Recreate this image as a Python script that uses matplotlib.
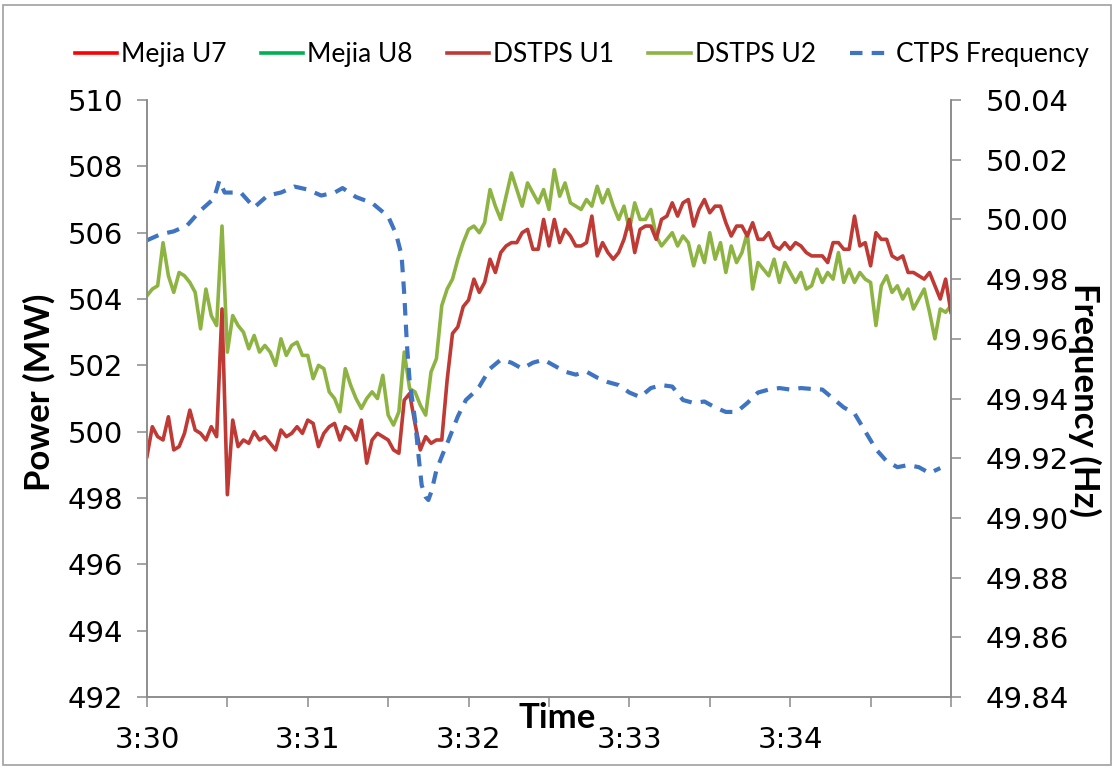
#!/usr/bin/env python3
import numpy as np
from matplotlib import pyplot as plt
from matplotlib.patches import Rectangle

# seconds after 3:30:00, one sample every 2 s
sec = np.arange(0, 301, 2)

dstps_u1 = [499.25, 500.15, 499.85, 499.75, 500.45, 499.45, 499.55, 499.95, 500.65, 500.05,
	499.95, 499.75, 500.15, 499.85, 503.7, 498.1, 500.35, 499.55, 499.75, 499.65,
	500.0, 499.75, 499.85, 499.65, 499.45, 500.05, 499.85, 499.95, 500.15, 499.95,
	500.35,
	500.25, 499.55, 499.95, 500.15, 500.25, 499.75, 500.15, 500.05, 499.75, 500.35,
	499.05, 499.75, 499.95, 499.85, 499.75, 499.45, 499.35, 500.95, 501.15, 500.25,
	499.45, 499.85, 499.65, 499.75, 499.75, 501.55, 502.96, 503.16, 503.77, 503.97,
	504.6, 504.2, 504.5, 505.2, 504.8, 505.4, 505.6, 505.7, 505.7, 506.0,
	506.1, 505.5, 505.5, 506.4, 505.6, 506.4, 505.7, 506.1, 505.9, 505.6,
	505.6, 505.7, 506.5, 505.3, 505.7, 505.4, 505.2, 505.4, 505.8, 506.4,
	505.4, 506.1, 506.2, 506.2, 505.8, 506.4, 506.5, 506.9, 506.5, 506.9,
	507.0, 506.2, 506.7, 507.0, 506.6, 506.8, 506.8, 506.3, 505.9, 506.2,
	506.2, 505.9, 506.3, 505.8, 505.8, 506.0, 505.6, 505.5, 505.7, 505.5,
	505.7, 505.6, 505.4, 505.3, 505.3, 505.3, 505.1, 505.7, 505.7, 505.5,
	505.5, 506.5, 505.6, 505.7, 505.0, 506.0, 505.8, 505.8, 505.3, 505.2,
	505.3, 504.8, 504.8, 504.7, 504.6, 504.8, 504.4, 504.0, 504.6, 503.6]

dstps_u2 = [504.1, 504.3, 504.4, 505.7, 504.7, 504.2, 504.8, 504.7, 504.5, 504.2,
	503.1, 504.3, 503.5, 503.2, 506.2, 502.4, 503.5, 503.2, 503.0, 502.5,
	502.9, 502.4, 502.6, 502.4, 502.0, 502.8, 502.3, 502.6, 502.7, 502.3,
	502.3,
	501.6, 502.0, 501.9, 501.2, 501.0, 500.6, 501.9, 501.4, 501.0, 500.7,
	501.0, 501.2, 501.0, 501.7, 500.5, 500.2, 500.6, 502.4, 501.3, 501.2,
	500.8, 500.5, 501.8, 502.2, 503.8, 504.3, 504.6, 505.2, 505.7, 506.1,
	506.2, 506.0, 506.3, 507.3, 506.8, 506.4, 507.1, 507.8, 507.3, 506.8,
	507.5, 507.2, 506.9, 507.3, 506.7, 507.9, 507.1, 507.5, 506.9, 506.8,
	506.7, 507.0, 506.8, 507.4, 506.9, 507.3, 506.8, 506.4, 506.8, 506.1,
	506.9, 506.4, 506.4, 506.7, 505.9, 505.6, 505.8, 506.0, 505.6, 505.9,
	505.7, 505.0, 505.6, 505.1, 506.0, 505.2, 505.7, 504.8, 505.6, 505.1,
	505.4, 506.0, 504.3, 505.1, 504.9, 504.7, 505.2, 504.5, 505.1, 504.8,
	504.5, 504.8, 504.3, 504.4, 504.9, 504.5, 504.8, 504.6, 505.4, 504.5,
	504.9, 504.5, 504.8, 504.6, 504.5, 503.2, 504.4, 504.7, 504.2, 504.4,
	504.0, 504.3, 503.7, 504.0, 504.3, 503.6, 502.8, 503.7, 503.6, 503.8]

# Mejia units are off the plotted range in the source, only in the legend
mejia_u7 = []
mejia_u8 = []

freq_sec = [0, 5, 10, 15, 20, 25, 27, 29, 35, 40, 45, 50, 55, 60, 65, 70, 73, 78, 84, 90,
	93, 95, 96, 97, 98, 100, 101.3, 102.5, 104, 105, 106.2, 108, 110.5, 112.5, 116, 119,
	122, 124, 128, 132, 136, 140, 144, 148, 152, 156, 160, 164, 168, 172, 176, 180,
	184, 188, 192, 196, 200, 204, 208, 212, 216, 220, 224, 228, 232, 236, 240, 244,
	248, 252, 256, 260, 264, 268, 272, 276, 280, 284, 288, 292, 296]
freq_hz = [49.993, 49.995, 49.996, 49.998, 50.003, 50.007, 50.013, 50.009, 50.009, 50.004,
	50.008, 50.009, 50.011, 50.010, 50.008, 50.009, 50.0105, 50.0075, 50.0055, 50.001,
	49.995, 49.988, 49.975, 49.958, 49.946, 49.933, 49.921, 49.911, 49.907, 49.906,
	49.909, 49.916, 49.9217, 49.926, 49.934, 49.9395, 49.942, 49.944, 49.950, 49.953,
	49.952, 49.950, 49.952, 49.953, 49.951, 49.949, 49.948, 49.949, 49.947, 49.9455,
	49.9445, 49.942, 49.9405, 49.9435, 49.9445, 49.944, 49.9395, 49.9385, 49.939, 49.937,
	49.9355, 49.9355, 49.9385, 49.942, 49.943, 49.9435, 49.943, 49.9435, 49.9432, 49.943,
	49.940, 49.937, 49.935, 49.929, 49.923, 49.919, 49.917, 49.9177, 49.917, 49.915,
	49.9167]

x_ticks = list(range(0, 301, 30))
x_labels = ['3:30', '', '3:31', '', '3:32', '', '3:33', '', '3:34', '', '']

GREY = '#8a8a8a'
TITLE_FONT = ['Lato', 'DejaVu Sans']


def main():
	fig = plt.figure(figsize=(11.15, 7.70), dpi=100)
	ax = fig.add_axes([0.1318, 0.0948, 0.7211, 0.7753])
	ax2 = ax.twinx()

	l7, = ax.plot(mejia_u7, mejia_u7, color='#ff0000', lw=2.6, label='Mejia U7')
	l8, = ax.plot(mejia_u8, mejia_u8, color='#00b050', lw=2.6, label='Mejia U8')
	l2, = ax.plot(sec, dstps_u2, color='#8db443', lw=2.6, label='DSTPS U2')
	l1, = ax.plot(sec, dstps_u1, color='#bf3a35', lw=2.6, label='DSTPS U1')
	lf, = ax2.plot(freq_sec, freq_hz, color='#3f74c2', lw=3.0, dashes=(3, 2.2),
		label='CTPS Frequency')

	ax.set_xlim(0, 300)
	ax.set_ylim(492, 510)
	ax.set_yticks(range(492, 511, 2))
	ax2.set_ylim(49.84, 50.04)
	ax2.set_yticks(np.linspace(49.84, 50.04, 11))
	ax2.set_yticklabels(['%.2f' % v for v in np.linspace(49.84, 50.04, 11)])
	ax.set_xticks(x_ticks)
	ax.set_xticklabels(x_labels)

	for a in (ax, ax2):
		a.spines['top'].set_visible(False)
		for s in ('left', 'right', 'bottom'):
			a.spines[s].set_color(GREY)
			a.spines[s].set_linewidth(1.1)
		a.tick_params(direction='out', length=7, width=1.1, color=GREY,
			labelsize=21, labelcolor='black')
	ax.tick_params(axis='y', pad=10)
	ax.tick_params(axis='x', pad=14)
	ax2.tick_params(axis='y', pad=18)

	fig.text(0.035, 0.49, 'Power (MW)', rotation=90, ha='center', va='center',
		fontsize=25, fontweight='bold', family=TITLE_FONT)
	fig.text(0.973, 0.48, 'Frequency (Hz)', rotation=-90, ha='center', va='center',
		fontsize=25, fontweight='bold', family=TITLE_FONT)
	fig.text(0.4996, 0.0675, 'Time', ha='center', va='center',
		fontsize=25, fontweight='bold', family=TITLE_FONT)

	fig.legend(handles=[l7, l8, l1, l2, lf], loc='center', ncol=5,
		bbox_to_anchor=(0.522, 0.9286), frameon=False,
		prop={'family': TITLE_FONT, 'size': 19},
		handlelength=1.6, handletextpad=0.15, columnspacing=1.3)

	fig.patches.append(Rectangle((0.003, 0.006), 0.993, 0.988, transform=fig.transFigure,
		fill=False, edgecolor='#a0a0a0', lw=1.2))

	plt.savefig('out.png', dpi=100)


if __name__ == '__main__':
	main()
